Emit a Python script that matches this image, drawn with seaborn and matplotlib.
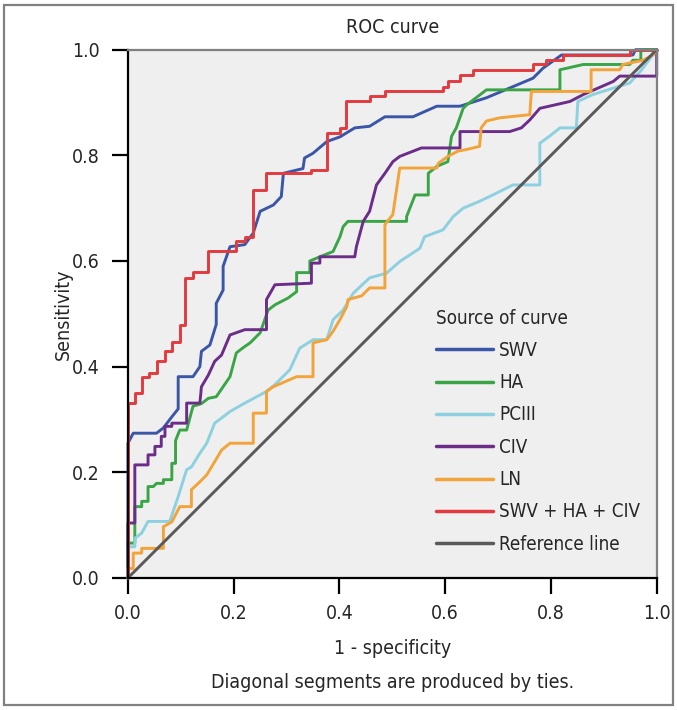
import pandas as pd
import seaborn as sns
import matplotlib.pyplot as plt
from matplotlib.patches import Rectangle

curve_names = ["SWV", "HA", "PCIII", "CIV", "LN", "SWV + HA + CIV", "Reference line"]
curve_colors = ["#3b56a6", "#3aa546", "#8dd0e0", "#6b2d88", "#f2a33a", "#e23a3f", "#5a5a5a"]

# ROC vertices (1 - specificity, sensitivity)
swv_fpr = [0, 0, 0.01, 0.054, 0.067, 0.083, 0.095, 0.095, 0.123, 0.136, 0.139, 0.155, 0.167, 0.167,
           0.18, 0.18, 0.193, 0.221, 0.237, 0.25, 0.275, 0.29, 0.294, 0.331, 0.334, 0.35, 0.376, 0.401,
           0.429, 0.457, 0.486, 0.539, 0.584, 0.628, 0.678, 0.728, 0.766, 0.785, 0.82, 0.955, 0.96, 1]
swv_tpr = [0, 0.255, 0.274, 0.274, 0.284, 0.305, 0.32, 0.381, 0.381, 0.40, 0.429, 0.441, 0.48, 0.52,
           0.545, 0.59, 0.627, 0.631, 0.653, 0.694, 0.706, 0.722, 0.766, 0.775, 0.795, 0.804, 0.826, 0.835,
           0.852, 0.855, 0.873, 0.873, 0.893, 0.893, 0.909, 0.93, 0.946, 0.965, 0.99, 0.99, 1.0, 1]

ha_fpr = [0, 0, 0.013, 0.013, 0.026, 0.026, 0.038, 0.038, 0.048, 0.054, 0.067, 0.067, 0.083, 0.083,
          0.09, 0.09, 0.098, 0.111, 0.123, 0.139, 0.152, 0.167, 0.18, 0.193, 0.205, 0.218, 0.231, 0.25,
          0.265, 0.278, 0.303, 0.319, 0.319, 0.344, 0.344, 0.363, 0.388, 0.401, 0.407, 0.416, 0.527,
          0.527, 0.543, 0.568, 0.568, 0.584, 0.605, 0.612, 0.621, 0.634, 0.64, 0.678, 0.817, 0.817,
          0.861, 0.949, 0.955, 0.97, 0.97, 1]
ha_tpr = [0, 0.066, 0.066, 0.135, 0.135, 0.145, 0.145, 0.173, 0.173, 0.179, 0.179, 0.186, 0.186, 0.217,
          0.217, 0.26, 0.28, 0.28, 0.325, 0.33, 0.34, 0.343, 0.362, 0.381, 0.426, 0.436, 0.445, 0.464,
          0.507, 0.517, 0.53, 0.542, 0.578, 0.578, 0.6, 0.608, 0.618, 0.646, 0.665, 0.675, 0.675,
          0.684, 0.725, 0.725, 0.766, 0.779, 0.788, 0.836, 0.852, 0.889, 0.895, 0.924, 0.924, 0.962,
          0.972, 0.972, 0.98, 0.98, 1.0, 1]

pciii_fpr = [0, 0, 0.013, 0.013, 0.026, 0.038, 0.079, 0.095, 0.111, 0.12, 0.136, 0.149, 0.164, 0.18,
             0.193, 0.221, 0.262, 0.278, 0.306, 0.325, 0.35, 0.376, 0.388, 0.407, 0.426, 0.457, 0.489,
             0.514, 0.552, 0.561, 0.596, 0.615, 0.634, 0.665, 0.69, 0.728, 0.779, 0.779, 0.797, 0.817,
             0.848, 0.851, 0.879, 0.949, 0.97, 1]
pciii_tpr = [0, 0.059, 0.059, 0.075, 0.085, 0.107, 0.107, 0.154, 0.205, 0.21, 0.236, 0.255, 0.293, 0.305,
             0.315, 0.331, 0.353, 0.366, 0.394, 0.435, 0.451, 0.451, 0.489, 0.507, 0.539, 0.568, 0.577,
             0.599, 0.624, 0.646, 0.659, 0.684, 0.70, 0.713, 0.725, 0.744, 0.744, 0.823, 0.836, 0.852,
             0.852, 0.902, 0.915, 0.937, 0.96, 1]

civ_fpr = [0, 0, 0.013, 0.013, 0.038, 0.038, 0.051, 0.051, 0.063, 0.063, 0.07, 0.07, 0.083, 0.083,
           0.111, 0.111, 0.136, 0.139, 0.152, 0.164, 0.177, 0.193, 0.221, 0.262, 0.262, 0.278, 0.347,
           0.347, 0.363, 0.363, 0.429, 0.432, 0.445, 0.457, 0.47, 0.486, 0.501, 0.514, 0.555, 0.628,
           0.628, 0.722, 0.744, 0.76, 0.779, 0.836, 0.861, 0.918, 0.93, 1.0, 1]
civ_tpr = [0, 0.104, 0.104, 0.214, 0.214, 0.233, 0.233, 0.249, 0.249, 0.268, 0.268, 0.287, 0.287, 0.293,
           0.293, 0.331, 0.331, 0.362, 0.384, 0.41, 0.422, 0.46, 0.47, 0.47, 0.527, 0.555, 0.558,
           0.596, 0.596, 0.608, 0.608, 0.627, 0.675, 0.694, 0.744, 0.766, 0.788, 0.798, 0.814, 0.814,
           0.845, 0.845, 0.852, 0.867, 0.889, 0.902, 0.915, 0.94, 0.95, 0.95, 1]

ln_fpr = [0, 0, 0.01, 0.01, 0.026, 0.026, 0.067, 0.067, 0.083, 0.098, 0.12, 0.12, 0.136, 0.149, 0.164,
          0.177, 0.193, 0.237, 0.237, 0.262, 0.262, 0.275, 0.319, 0.35, 0.35, 0.376, 0.388, 0.401, 0.414,
          0.416, 0.442, 0.457, 0.486, 0.486, 0.501, 0.514, 0.584, 0.587, 0.605, 0.624, 0.64, 0.665,
          0.668, 0.678, 0.703, 0.76, 0.763, 0.876, 0.876, 0.93, 0.936, 0.974, 0.993, 1]
ln_tpr = [0, 0.018, 0.018, 0.047, 0.047, 0.056, 0.056, 0.097, 0.106, 0.135, 0.135, 0.167, 0.182, 0.195,
          0.22, 0.242, 0.255, 0.255, 0.312, 0.312, 0.353, 0.362, 0.381, 0.381, 0.445, 0.451, 0.467, 0.489,
          0.514, 0.527, 0.534, 0.549, 0.549, 0.669, 0.688, 0.776, 0.776, 0.785, 0.798, 0.808, 0.811,
          0.817, 0.852, 0.865, 0.871, 0.877, 0.921, 0.921, 0.962, 0.962, 0.972, 0.98, 0.99, 1]

combo_fpr = [0, 0, 0.013, 0.013, 0.026, 0.026, 0.04, 0.04, 0.054, 0.054, 0.07, 0.07, 0.083, 0.083,
             0.098, 0.098, 0.108, 0.108, 0.123, 0.123, 0.152, 0.152, 0.205, 0.205, 0.221, 0.221, 0.237,
             0.237, 0.262, 0.262, 0.347, 0.347, 0.376, 0.376, 0.401, 0.401, 0.413, 0.413, 0.457, 0.457,
             0.486, 0.486, 0.596, 0.596, 0.605, 0.605, 0.628, 0.628, 0.653, 0.653, 0.766, 0.766, 0.791,
             0.791, 0.823, 0.823, 0.949, 0.949, 1]
combo_tpr = [0, 0.331, 0.331, 0.35, 0.35, 0.38, 0.38, 0.388, 0.388, 0.41, 0.41, 0.43, 0.43, 0.447,
             0.447, 0.479, 0.479, 0.568, 0.568, 0.58, 0.58, 0.618, 0.618, 0.637, 0.637, 0.646, 0.646,
             0.735, 0.735, 0.766, 0.766, 0.773, 0.773, 0.842, 0.842, 0.852, 0.852, 0.902, 0.902, 0.912,
             0.912, 0.921, 0.921, 0.93, 0.93, 0.94, 0.94, 0.953, 0.953, 0.962, 0.962, 0.972, 0.972,
             0.98, 0.98, 0.99, 0.99, 1.0, 1]

ref_fpr = [0, 1]
ref_tpr = [0, 1]

tick_values = [0.0, 0.2, 0.4, 0.6, 0.8, 1.0]

fprs = [swv_fpr, ha_fpr, pciii_fpr, civ_fpr, ln_fpr, combo_fpr, ref_fpr]
tprs = [swv_tpr, ha_tpr, pciii_tpr, civ_tpr, ln_tpr, combo_tpr, ref_tpr]
frames = []
for name, fpr, tpr in zip(curve_names, fprs, tprs):
    frames.append(pd.DataFrame({"fpr": fpr, "tpr": tpr, "curve": name}))
df = pd.concat(frames, ignore_index=True)

sns.set_style("ticks")
plt.rcParams["font.family"] = ["DejaVu Sans"]
plt.rcParams["font.stretch"] = "condensed"

fig = plt.figure(figsize=(6.77, 7.10), dpi=100)
# grey frame round the whole picture
fig.add_artist(Rectangle((4 / 677, 5 / 710), 669 / 677, 700 / 710, transform=fig.transFigure,
                         fill=False, edgecolor="#808080", linewidth=1.6))
ax = fig.add_axes([0.189, 0.186, 0.781, 0.744])
ax.set_facecolor("#efefef")

sns.lineplot(data=df, x="fpr", y="tpr", hue="curve", hue_order=curve_names,
             palette=dict(zip(curve_names, curve_colors)), sort=False, estimator=None,
             linewidth=2.1, ax=ax)
for line in ax.lines:
    line.set_clip_on(False)

ax.set_xlim(0, 1)
ax.set_ylim(0, 1)
ax.set_xticks(tick_values)
ax.set_yticks(tick_values)
ax.set_xticklabels([f"{v:.1f}" for v in tick_values])
ax.set_yticklabels([f"{v:.1f}" for v in tick_values])
ax.tick_params(direction="out", length=11.5, width=1.6, color="black", labelsize=14)
ax.tick_params(axis="y", pad=9)
ax.tick_params(axis="x", pad=7)

for side in ["left", "bottom"]:
    ax.spines[side].set_color("black")
    ax.spines[side].set_linewidth(1.6)
for side in ["top", "right"]:
    ax.spines[side].set_visible(True)
    ax.spines[side].set_color("#808080")
    ax.spines[side].set_linewidth(1.6)

ax.set_title("ROC curve", fontsize=14, pad=12)
ax.set_xlabel("1 - specificity", fontsize=14)
ax.set_ylabel("Sensitivity", fontsize=14)
ax.xaxis.set_label_coords(0.5, -0.115)
ax.yaxis.set_label_coords(-0.105, 0.5)
fig.text(0.58, 0.039, "Diagonal segments are produced by ties.", ha="center", va="center", fontsize=14)

handles, labels = ax.get_legend_handles_labels()
leg = ax.legend(handles, labels, title="Source of curve", loc="upper left",
                bbox_to_anchor=(0.55, 0.542), frameon=False, handlelength=3.05,
                handletextpad=0.33, labelspacing=0.71, fontsize=13.5, title_fontsize=13.5,
                alignment="left")
for h in leg.legend_handles:
    h.set_linewidth(2.5)

fig.savefig("out.png", dpi=100)
